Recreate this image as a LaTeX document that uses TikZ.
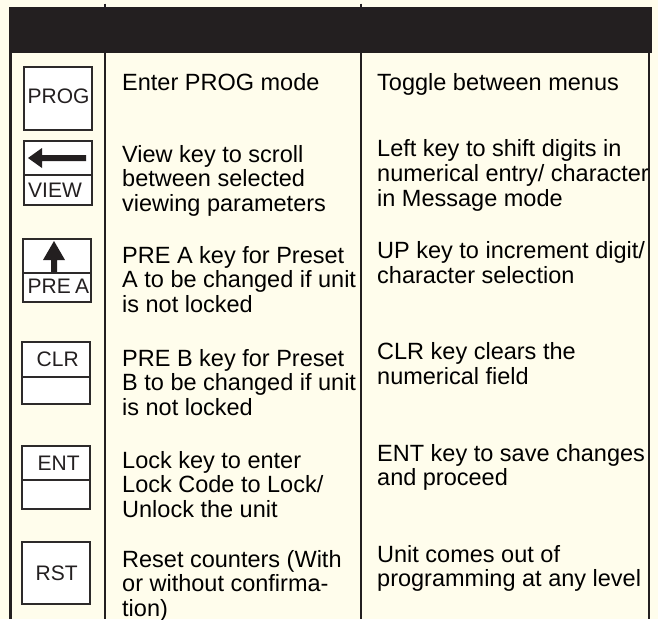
\documentclass[tikz,border=0pt]{standalone}
\usepackage{fontspec}
\setmainfont{Liberation Sans}
\definecolor{cream}{RGB}{255,253,236}
\definecolor{ink}{RGB}{35,31,32}
\definecolor{keyline}{RGB}{45,42,42}
\newcommand\stk[1]{\begin{tabular}[t]{@{}l@{}}#1\end{tabular}}
\tikzset{
  body/.style={anchor=base west,inner sep=0pt,text=black,font=\fontsize{23.5}{24.8}\selectfont},
  keylabel/.style={anchor=base west,inner sep=0pt,text=ink,font=\fontsize{21}{22}\selectfont},
  keypart/.style={draw=keyline,line width=2.3pt,fill=white,inner sep=0pt,minimum width=68pt},
  rule/.style={draw=ink,line width=2.4pt},
  arrowfill/.style={fill=ink,draw=none}
}
\begin{document}
\begin{tikzpicture}[x=1pt,y=-1pt]
\useasboundingbox (0,0) rectangle (658,619);
\fill[cream] (0,0) rectangle (658,619);
\clip (0,0) rectangle (658,619);
% header
\node[fill=ink,inner sep=0pt,minimum width=643pt,minimum height=46pt,anchor=north west] (hdr) at (9,7) {};
\coordinate (t1) at (105,3.5);
\coordinate (t2) at (361,3.5);
\draw[ink,line width=1.5pt] (t1) -- (t1 |- hdr.north);
\draw[ink,line width=1.5pt] (t2) -- (t2 |- hdr.north);
% column rules
\coordinate (b0) at (10.3,619);
\coordinate (b1) at (105,619);
\coordinate (b2) at (361,619);
\coordinate (b3) at (648.5,619);
\draw[rule] (b0 |- hdr.south) -- (b0);
\draw[rule] (b1 |- hdr.south) -- (b1);
\draw[rule] (b2 |- hdr.south) -- (b2);
\draw[rule,line width=2pt] (b3 |- hdr.south) -- (b3);
% keys
\node[keypart,minimum height=63pt,anchor=north west] (prog) at (23,66) {};
\node[keylabel] (progl) at (27.5,103) {PROG};
\node[keypart,minimum height=34pt,anchor=north west] (viewt) at (22.5,140) {};
\node[keypart,minimum height=30pt,anchor=north west] (viewb) at (22.5,174) {};
\fill[arrowfill] (28,158) -- (42,148) -- (42,155) -- (86,155) -- (86,161) -- (42,161) -- (42,168) -- cycle;
\node[keylabel] (viewl) at (28,197) {VIEW};
\node[keypart,minimum height=34pt,anchor=north west] (preat) at (22,238) {};
\node[keypart,minimum height=29pt,anchor=north west] (preab) at (22,272) {};
\fill[arrowfill] (54,241) -- (65,260) -- (57,260) -- (57,272) -- (51,272) -- (51,260) -- (43,260) -- cycle;
\node[keylabel] (preal) at (27.5,293) {PRE\kern-0.08em\ A};
\node[keypart,minimum height=35pt,anchor=north west] (clrt) at (21,341) {};
\node[keypart,minimum height=27pt,anchor=north west] (clrb) at (21,376) {};
\node[keylabel] (clrl) at (36.5,366) {CLR};
\node[keypart,minimum height=34pt,anchor=north west] (entt) at (21,445) {};
\node[keypart,minimum height=29pt,anchor=north west] (entb) at (21,479) {};
\node[keylabel] (entl) at (37.5,470) {ENT};
\node[keypart,minimum height=62pt,anchor=north west] (rst) at (21,541) {};
\node[keylabel] (rstl) at (35.5,580) {RST};
% middle column
\node[body] (m1) at (122,90.5) {Enter PROG mode};
\node[body] (m2) at (122,162) {\stk{View key to scroll\\between selected\\viewing parameters}};
\node[body] (m3) at (122,263) {\stk{PRE A key for Preset\\A to be changed if unit\\is not locked}};
\node[body] (m4) at (122,366) {\stk{PRE B key for Preset\\B to be changed if unit\\is not locked}};
\node[body] (m5) at (122,468) {\stk{Lock key to enter\\Lock Code to Lock/\\Unlock the unit}};
\node[body] (m6) at (122,567) {\stk{Reset counters (With\\or without confirma-\\tion)}};
% right column
\node[body] (r1) at (377,90.5) {Toggle between menus};
\node[body] (r2) at (377,156.7) {\stk{Left key to shift digits in\\numerical entry/ character\\in Message mode}};
\node[body] (r3) at (377,258.3) {\stk{UP key to increment digit/\\character selection}};
\node[body] (r4) at (377,359.3) {\stk{CLR key clears the\\numerical field}};
\node[body] (r5) at (377,461) {\stk{ENT key to save changes\\and proceed}};
\node[body] (r6) at (377,562) {\stk{Unit comes out of\\programming at any level}};
\end{tikzpicture}
\end{document}
